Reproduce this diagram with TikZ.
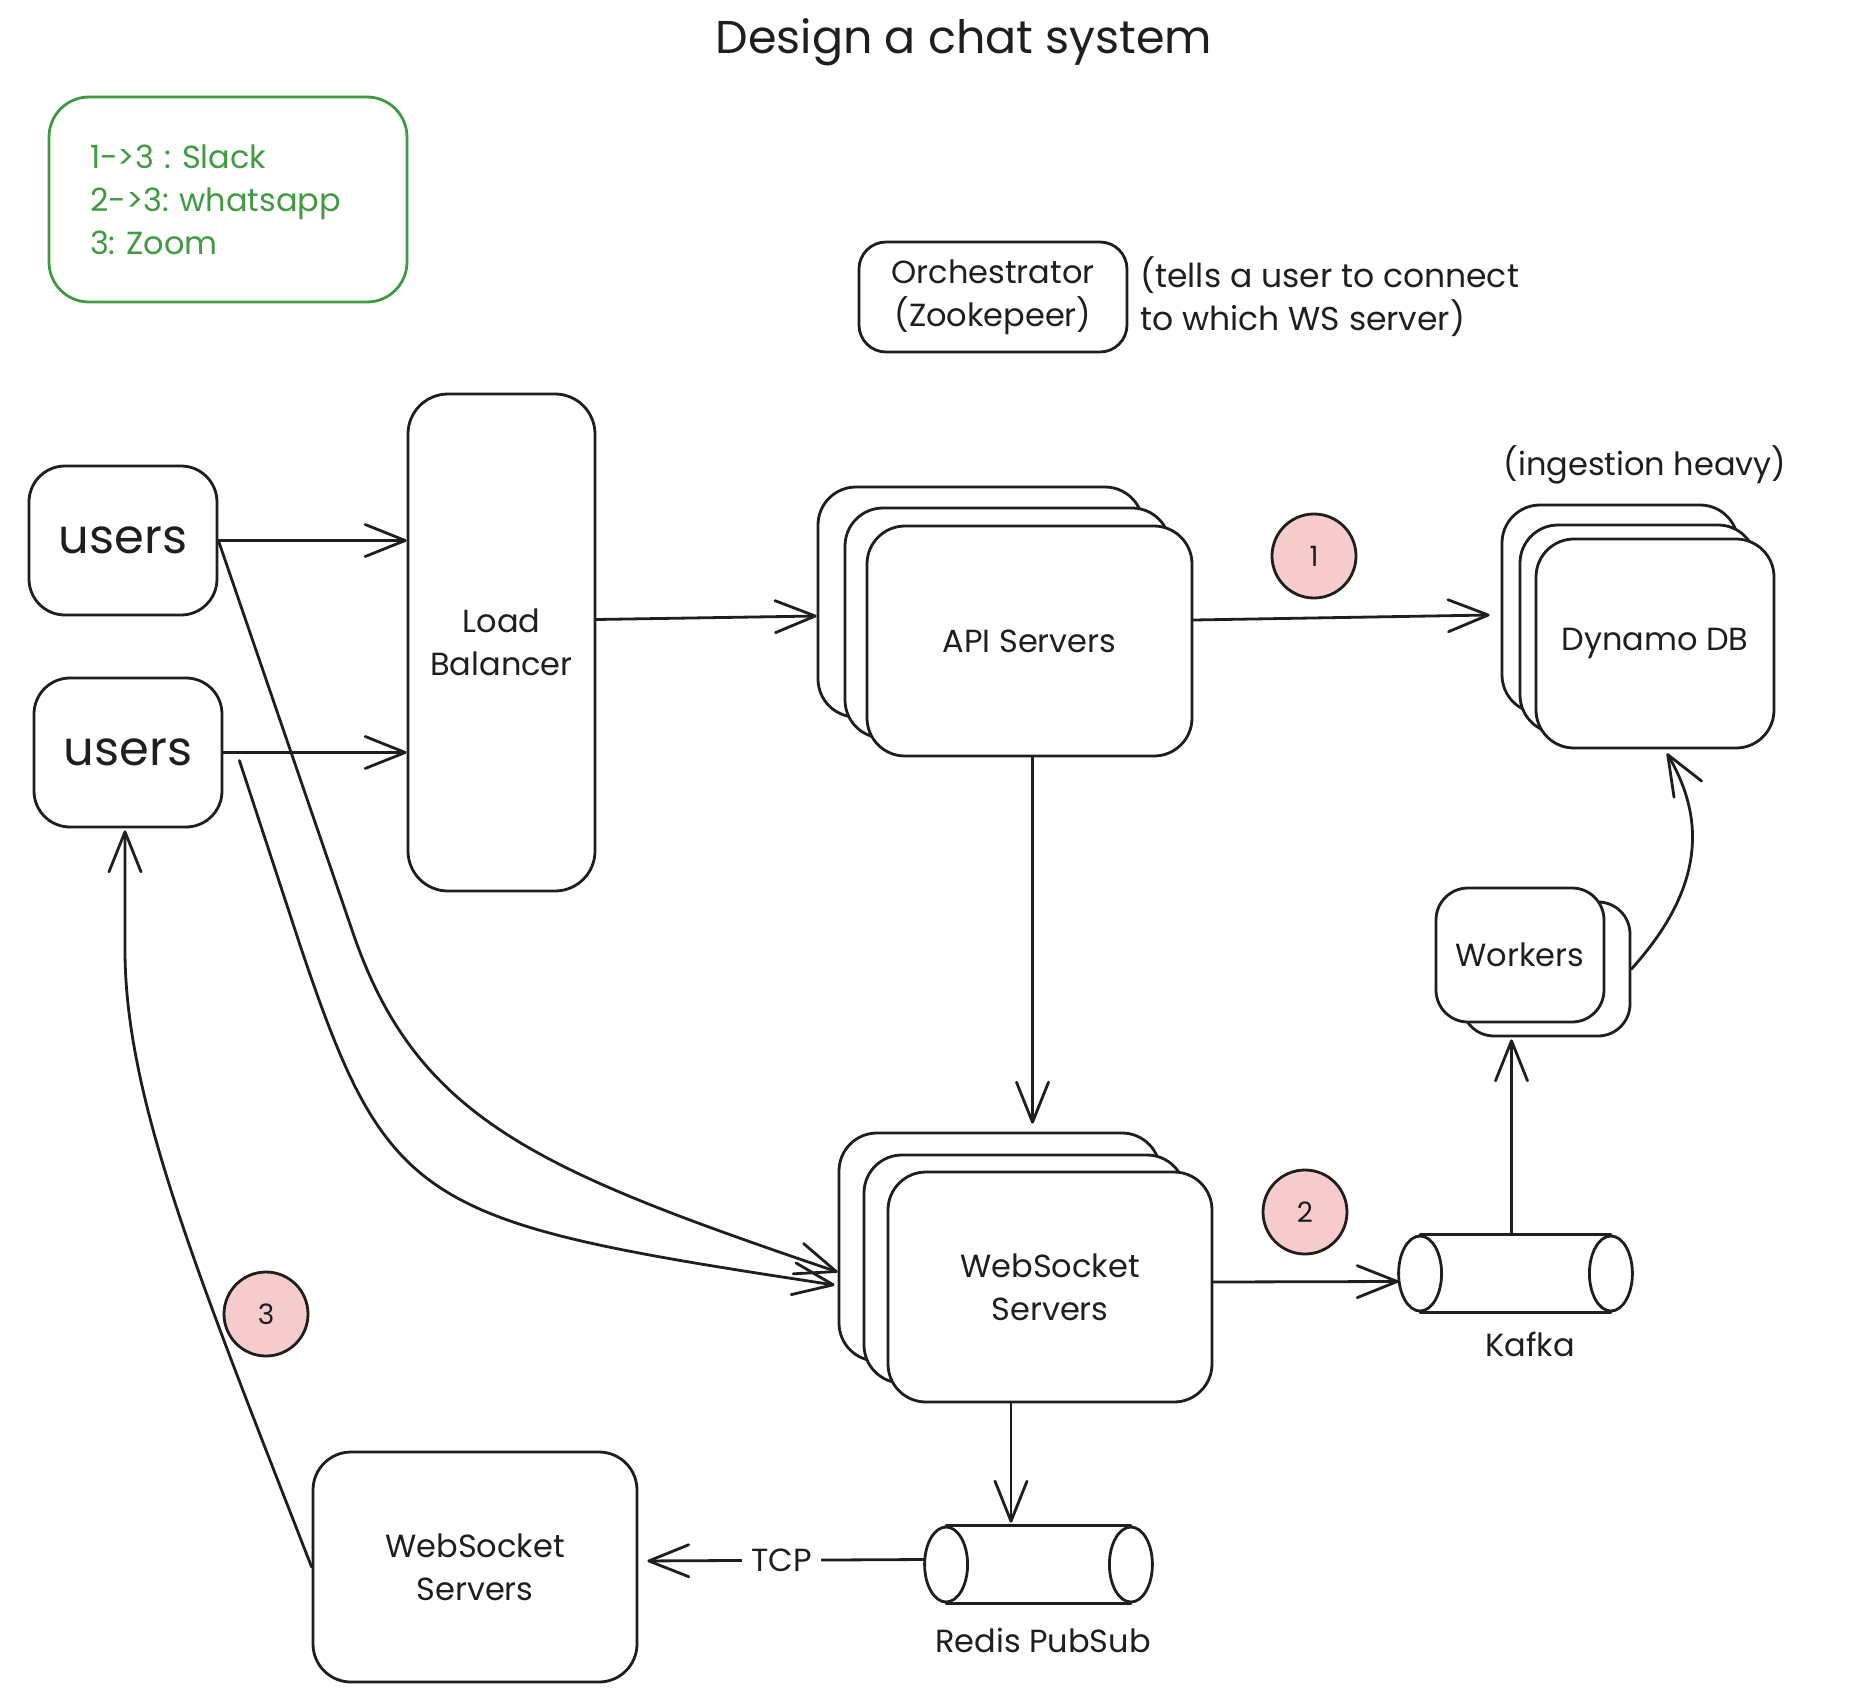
\documentclass[tikz,border=0pt]{standalone}
\usepackage{fontspec}
\setmainfont{Poppins}
\usetikzlibrary{arrows.meta,calc}
\definecolor{ink}{RGB}{30,30,30}
\definecolor{grn}{RGB}{64,154,64}
\definecolor{pinkc}{RGB}{246,203,203}
\newcommand\fsz[2]{\fontsize{#1pt}{#2pt}\selectfont\frenchspacing}
\newcommand\hcyl[1]{%
  \fill[white] ($(#1.north west)+(21.5,0)$) rectangle ($(#1.south east)+(-21.5,0)$);
  \draw ($(#1.north west)+(21.5,0)$) -- ($(#1.north east)+(-21.5,0)$);
  \draw ($(#1.south west)+(21.5,0)$) -- ($(#1.south east)+(-21.5,0)$);
  \draw[fill=white] ($(#1.west)+(21.5,0)$) ellipse [x radius=21.5pt, y radius=37.5pt];
  \draw[fill=white] ($(#1.east)+(-21.5,0)$) ellipse [x radius=21.5pt, y radius=37.5pt];
}
\begin{document}
\frenchspacing
\begin{tikzpicture}[x=1pt,y=-1pt,
  line width=2.8pt, ink, line cap=round, line join=round,
  box/.style={draw=ink, fill=white, line width=2.8pt, rounded corners=38pt, inner sep=0pt, align=center, font=\fsz{32}{43}, text=ink},
  arr/.style={-{Straight Barb[length=40pt,width=32pt,round]}, draw=ink, line width=2.8pt},
  badge/.style={circle, draw=ink, fill=pinkc, line width=2.8pt, minimum size=84pt, inner sep=0pt, font=\fsz{28}{34}, text=ink},
  lbl/.style={inner sep=0pt, font=\fsz{32}{43}, text=ink},
]
\fill[white] (0,0) rectangle (1872,1702);
\useasboundingbox (0,0) rectangle (1872,1702);

\node[anchor=base, font=\fsz{46}{54}] (title) at (964,54) {Design a chat system};

\node[box, draw=grn, text=grn, minimum width=358pt, minimum height=205pt, text width=276pt, align=left, rounded corners=40pt] (legend) at (228,199.5) {1->3 : Slack\\2->3: whatsapp\\3: Zoom};

\node[box, rounded corners=27pt, minimum width=268pt, minimum height=110pt] (orch) at (993,297) {Orchestrator\\(Zookepeer)};
\node[lbl, anchor=west, align=left, font=\fsz{33}{43}] (note) at (1139,297) {(tells a user to connect\\to which WS server)};

\node[box, minimum width=187pt, minimum height=497pt, rounded corners=40pt] (lb) at (501.5,642.5) {Load\\Balancer};
\node[box, minimum width=188pt, minimum height=149pt, font=\fsz{48}{56}, rounded corners=36pt] (u1) at (123,540.5) {users};
\node[box, minimum width=188pt, minimum height=149pt, font=\fsz{48}{56}, rounded corners=36pt] (u2) at (128,752.5) {users};

\node[box, minimum width=325pt, minimum height=230pt] (apiB) at (980.5,602) {};
\node[box, minimum width=325pt, minimum height=230pt] (apiM) at (1007.5,623) {};
\node[box, minimum width=325pt, minimum height=230pt] (apiF) at (1029.5,641) {API Servers};

\node[box, minimum width=236pt, minimum height=208pt] (dyB) at (1620,609) {};
\node[box, minimum width=236pt, minimum height=208pt] (dyM) at (1638,629) {};
\node[box, minimum width=238pt, minimum height=209pt] (dyF) at (1655,643.5) {Dynamo DB};
\node[lbl, anchor=base] (ingest) at (1645,475) {(ingestion heavy)};

\node[badge] (b1) at (1314,556) {1};
\node[badge] (b2) at (1305,1212) {2};
\node[badge] (b3) at (266,1314) {3};

\node[box, minimum width=321pt, minimum height=228pt] (wsB) at (999.5,1247) {};
\node[box, minimum width=321pt, minimum height=228pt] (wsM) at (1024.5,1269) {};
\node[box, minimum width=324pt, minimum height=230pt] (wsF) at (1050,1287) {WebSocket\\Servers};

\node[box, minimum width=168pt, minimum height=134pt, rounded corners=32pt] (wkB) at (1546,969) {};
\node[box, minimum width=168pt, minimum height=134pt, rounded corners=32pt] (wkF) at (1520,955) {Workers};

\node[minimum width=231pt, minimum height=75pt, inner sep=0pt] (kafka) at (1515.5,1273.5) {};
\hcyl{kafka}
\node[lbl, anchor=base] (kafkaL) at (1530,1356) {Kafka};

\node[minimum width=225pt, minimum height=75pt, inner sep=0pt] (redis) at (1038.5,1564.5) {};
\hcyl{redis}
\node[lbl, anchor=base] (redisL) at (1043,1652) {Redis PubSub};

\node[box, minimum width=324pt, minimum height=230pt] (wsC) at (475,1567) {WebSocket\\Servers};

% connectors
\draw[arr] (u1.east) -- (lb.west |- u1.east);
\draw[arr] (u2.east) -- (lb.west |- u2.east);
\draw[arr] ([yshift=23pt]lb.east) -- ([yshift=-14pt]apiB.west);
\draw[arr] ([yshift=21pt]apiF.east) -- ([xshift=-11pt,yshift=-6pt]dyB.west);
\draw[arr, shorten >=8pt] ([xshift=3pt]apiF.south) -- ([xshift=3pt]apiF.south |- wsB.north);
\draw[arr] ([yshift=5pt]wsF.east) -- ([yshift=-8pt]kafka.west);
\draw[arr, shorten >=2pt] ([xshift=-4pt]kafka.north) -- ([xshift=-4pt]kafka.north |- wkB.south);
\draw[arr] (wkB.east) .. controls (1712,880) and (1700,810) .. ([xshift=12pt,yshift=-4pt]dyF.south);
\draw[arr] ([xshift=-39pt]wsF.south) -- ([xshift=-27.5pt,yshift=3pt]redis.north);
\draw[arr, shorten >=9pt] ([yshift=5pt]redis.west) -- node[lbl, fill=white, inner xsep=9pt, inner ysep=2pt] (tcp) {TCP} ([yshift=6pt]wsC.east);
\draw[arr, shorten >=2pt] (wsC.west) .. controls (200,1280) and (125,1100) .. (125,950) -- ([xshift=-3pt]u2.south);
\draw[arr] (u1.east) -- (352,930) .. controls (416,1120) and (538,1170) .. ([yshift=-25pt]wsB.west);
\draw[arr] ([xshift=16pt,yshift=-8pt]u2.east) -- (300,945) .. controls (389,1210) and (420,1222) .. ([xshift=-3pt,yshift=-38pt]wsB.west);
\end{tikzpicture}
\end{document}
